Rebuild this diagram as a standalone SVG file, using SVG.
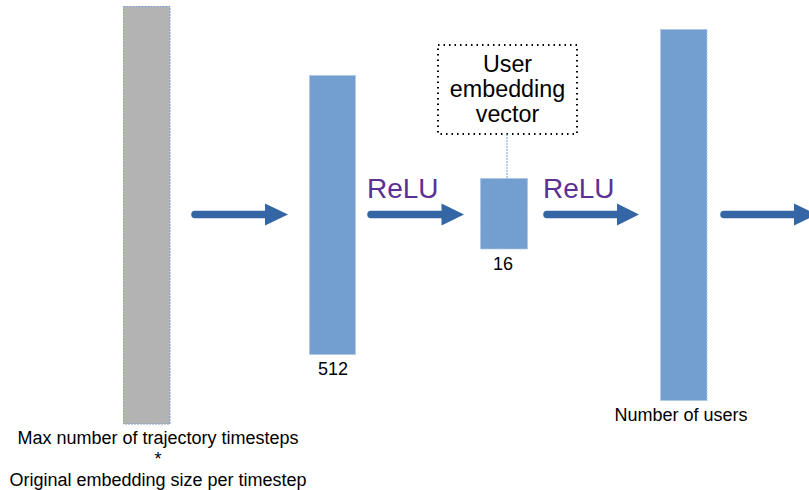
<svg xmlns="http://www.w3.org/2000/svg" width="809" height="490" viewBox="0 0 809 490">
<style>
.layer{fill:#729fcf;stroke:#a9c4e6;stroke-width:1;stroke-dasharray:2 1}
.input{fill:#b3b3b3;stroke:#7f9ccb;stroke-width:1;stroke-dasharray:2 1}
.arrow{stroke:#3465a4;stroke-width:7.5;stroke-linecap:round;fill:none}
.head{fill:#3465a4}
.lbl{font-family:"Liberation Sans",Arial,sans-serif;font-size:18px;fill:#000;text-anchor:middle}
.relu{font-family:"Liberation Sans",Arial,sans-serif;font-size:28px;fill:#5c3092}
.box{font-family:"Liberation Sans",Arial,sans-serif;font-size:23.3px;fill:#000;text-anchor:middle}
</style>
<rect width="809" height="490" fill="#fff"/>
<g id="input">
<rect class="input" x="123.5" y="6.5" width="46.5" height="417.5"/>
<text class="lbl" x="158" y="444">Max number of trajectory timesteps</text>
<text class="lbl" x="158" y="465">*</text>
<text class="lbl" x="158" y="486">Original embedding size per timestep</text>
</g>
<g id="dense512">
<rect class="layer" x="309.5" y="75.5" width="46" height="279"/>
<text class="lbl" x="333" y="375">512</text>
</g>
<g id="dense16">
<rect class="layer" x="480.5" y="178.5" width="47" height="70.5"/>
<text class="lbl" x="503" y="270">16</text>
</g>
<g id="users">
<rect class="layer" x="660.5" y="29.5" width="46.5" height="371"/>
<text class="lbl" x="681" y="421">Number of users</text>
</g>
<g id="note">
<rect x="438" y="45" width="139" height="89" fill="none" stroke="#000" stroke-width="2" stroke-dasharray="1.5 4"/>
<text class="box" x="507.5" y="72">User</text>
<text class="box" x="507.5" y="97">embedding</text>
<text class="box" x="507.5" y="122">vector</text>
</g>
<g id="connectors">
<line x1="507" y1="134" x2="507" y2="178" stroke="#729fcf" stroke-width="1" stroke-dasharray="2 1"/>
<line class="arrow" x1="195" y1="214.5" x2="267" y2="214.5"/>
<polygon class="head" points="265,203.5 288,214.5 265,225.5"/>
<line class="arrow" x1="371" y1="214.5" x2="443" y2="214.5"/>
<polygon class="head" points="441.5,203.5 464,214.5 441.5,225.5"/>
<line class="arrow" x1="547" y1="214.5" x2="619" y2="214.5"/>
<polygon class="head" points="617,203.5 639,214.5 617,225.5"/>
<line class="arrow" x1="724" y1="214.5" x2="796" y2="214.5"/>
<polygon class="head" points="794,203.5 817,214.5 794,225.5"/>
<text class="relu" x="367" y="198">ReLU</text>
<text class="relu" x="543" y="198">ReLU</text>
</g>
</svg>
